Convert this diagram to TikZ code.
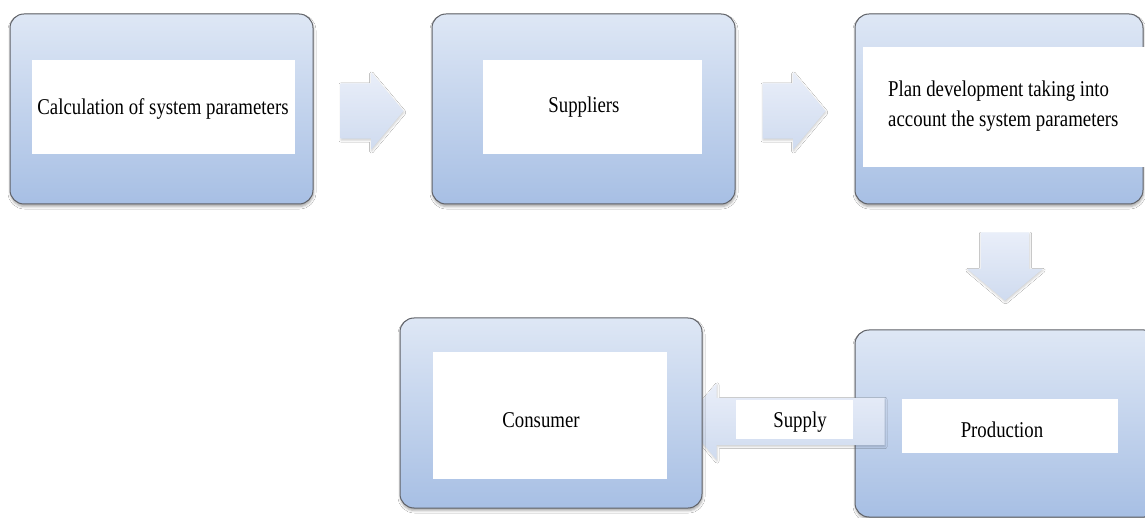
\documentclass[tikz,border=0pt]{standalone}
\usepackage{fontspec}
\setmainfont{Liberation Serif}
\usepackage{graphicx}
\usetikzlibrary{positioning,calc,shapes.arrows,shadows.blur}
\definecolor{cTop}{RGB}{222,231,245}
\definecolor{cBot}{RGB}{167,191,228}
\definecolor{cEdge}{RGB}{96,98,104}
\definecolor{cArrTop}{RGB}{233,238,249}
\definecolor{cArrBot}{RGB}{207,219,239}
\newcommand{\tallbox}[1]{\scalebox{1}[1.2]{#1}}

\begin{document}
\begin{tikzpicture}[
  x=1pt, y=-1pt,
  font=\fontsize{18.8}{25}\selectfont,
  panel/.style = {draw=cEdge, line width=1pt, rounded corners=14pt,
                  top color=cTop, bottom color=cBot, inner sep=0pt,
                  minimum width=303pt, minimum height=190pt,
                  blur shadow={shadow xshift=0.5pt, shadow yshift=-2.5pt,
                               shadow blur radius=2.5pt, shadow opacity=35}},
  slab/.style  = {fill=white, inner sep=0pt},
  txt/.style   = {inner sep=0pt, anchor=base},
  flow/.style  = {single arrow, single arrow tip angle=100,
                  single arrow head extend=11pt, anchor=tail,
                  inner xsep=0pt, inner ysep=27.5pt, outer sep=0pt,
                  minimum width=0pt, minimum height=63pt,
                  top color=cArrTop, bottom color=cArrBot,
                  blur shadow={shadow xshift=0.5pt, shadow yshift=-1.5pt,
                               shadow blur radius=2pt, shadow opacity=20}}
]
\useasboundingbox (0,0) rectangle (1145,518);
\fill[white] (0,0) rectangle (1145,518);
\clip (0,0) rectangle (1145,518);

% ------------------------------------------------------- riquadri in alto --
\node[panel]                      (calc) at (161.5,109) {};
\node[panel]                      (supp) at (583.5,109) {};
\node[panel, minimum width=288pt] (plan) at (999,109)   {};

\node[slab, minimum width=263pt, minimum height=94pt]  (calcW) at (163.5,107) {};
\node[slab, minimum width=219pt, minimum height=94pt]  (suppW) at (592.5,107) {};
\node[slab, minimum width=284pt, minimum height=120pt] (planW) at (1005,107)  {};

\node[txt] (calcT) at (163,115) {\tallbox{Calculation of system parameters}};
\node[txt] (suppT) at (584,113) {\tallbox{Suppliers}};
\node[txt, anchor=base west] (planT) at (888,97)
  {\tallbox{\begin{tabular}[t]{@{}l@{}}Plan development taking into\\
   account the system parameters\end{tabular}}};

% ------------------------------------------------------------ frecce --
\node[flow] (a1) at ([xshift=27pt, yshift=-2pt]calc.east) {};
\node[flow] (a2) at ([xshift=27pt, yshift=-2pt]supp.east) {};

% ------------------------------------------- produzione, tagliata a destra --
\node[panel, minimum height=187pt] (prod) at (1006.5,423.5) {};
\node[flow, shape border rotate=270, inner xsep=24pt, inner ysep=0pt,
      minimum height=68pt, single arrow head extend=13.5pt]
      (a3) at ([xshift=6pt, yshift=-28pt]plan.south) {};
\node[slab, minimum width=216pt, minimum height=54pt] (prodW) at (1010,426) {};
\node[txt] (prodT) at (1002,437) {\tallbox{Production}};

% la freccia della fornitura passa sotto il consumatore
\node[flow, shape border rotate=180, inner ysep=23.5pt,
      minimum height=200pt, single arrow head extend=14.5pt]
      (a4) at ([xshift=30pt, yshift=2pt]prod.west) {};
\node[slab, minimum width=117pt, minimum height=39pt] (supW) at (794.5,419.5) {};
\node[txt] (supT) at (800,427) {\tallbox{Supply}};

% ------------------------------------------------------- consumatore --
\node[panel, minimum width=302pt] (cons) at (551,413) {};
\node[slab, minimum width=234pt, minimum height=127pt] (consW) at (550,415.5) {};
\node[txt] (consT) at (541,427) {\tallbox{Consumer}};

\end{tikzpicture}
\end{document}
